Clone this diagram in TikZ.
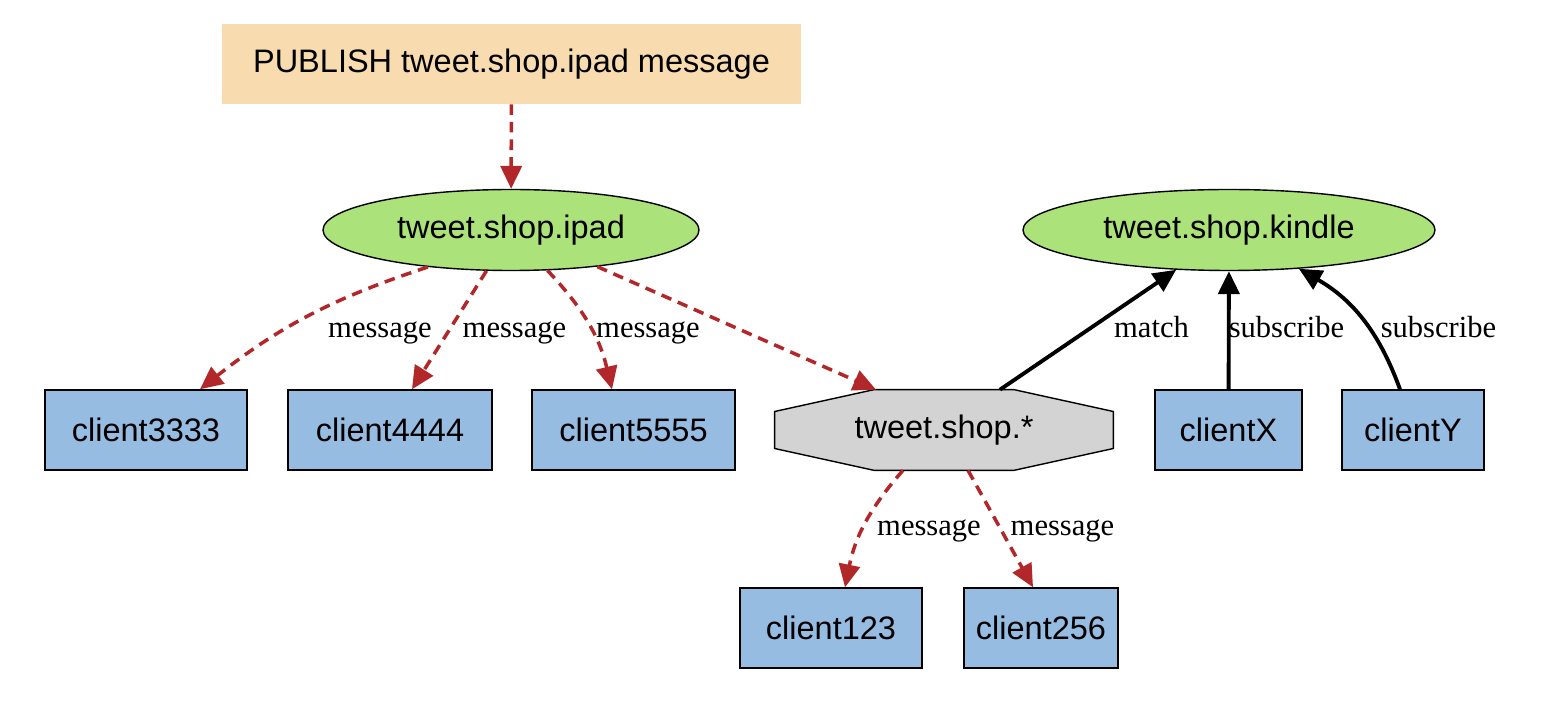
\documentclass[tikz,border=0pt]{standalone}
\usepackage{fontspec}
\setmainfont{Liberation Serif}
\newfontfamily\boxfont{Liberation Sans}
\usetikzlibrary{positioning,shapes.geometric,arrows.meta,backgrounds}

\definecolor{pubfill}{HTML}{F8DCAF}
\definecolor{chanfill}{HTML}{ABE27A}
\definecolor{clifill}{HTML}{97BCE1}
\definecolor{patfill}{HTML}{D3D3D3}
\definecolor{msgred}{HTML}{B2282A}

\begin{document}
\begin{tikzpicture}[
  every node/.style={font=\boxfont\fontsize{18.5}{22}\selectfont},
  client/.style={draw, fill=clifill, line width=0.8pt, minimum height=1.6cm, inner sep=0pt},
  channel/.style={ellipse, draw, fill=chanfill, line width=0.8pt, minimum height=1.62cm, inner sep=0pt},
  msg/.style={msgred, line width=2pt, dash pattern=on 6pt off 4pt, -{Triangle[length=13pt,width=12pt]}},
  sub/.style={black, line width=2.2pt, -{Triangle[length=13pt,width=12pt]}},
  lbl/.style={font=\rmfamily\fontsize{17.4}{20}\selectfont, anchor=base, inner sep=0pt}
]
  \useasboundingbox (0,0) rectangle (31.2,-14.56);

  % publish command
  \node[fill=pubfill, minimum width=11.58cm, minimum height=1.6cm, inner sep=0pt] (pub) at (10.23,-1.28) {PUBLISH tweet.shop.ipad message};

  % channels
  \node[channel, minimum width=7.52cm] (ipad) at (10.22,-4.6) {tweet.shop.ipad};
  \node[channel, minimum width=8.24cm] (kindle) at (24.58,-4.6) {tweet.shop.kindle};

  % clients
  \node[client, minimum width=4.04cm] (c3333) at (2.92,-8.6) {client3333};
  \node[client, minimum width=4.08cm] (c4444) at (7.8,-8.6) {client4444};
  \node[client, minimum width=4.06cm] (c5555) at (12.67,-8.6) {client5555};
  \node[client, minimum width=2.94cm] (clientX) at (24.57,-8.6) {clientX};
  \node[client, minimum width=2.84cm] (clientY) at (28.26,-8.6) {clientY};
  \node[client, minimum width=3.64cm] (c123) at (16.62,-12.56) {client123};
  \node[client, minimum width=3.08cm] (c256) at (20.82,-12.56) {client256};

  % pattern
  \node[minimum width=6.76cm, minimum height=1.6cm, inner sep=0pt] (pat) at (18.88,-8.6) {tweet.shop.*};
  \begin{scope}[on background layer]
    \draw[fill=patfill, line width=0.8pt] ([xshift=-1.4cm]pat.north) -- ([xshift=1.4cm]pat.north)
      -- ([yshift=0.37cm]pat.east) -- ([yshift=-0.37cm]pat.east)
      -- ([xshift=1.4cm]pat.south) -- ([xshift=-1.4cm]pat.south)
      -- ([yshift=-0.37cm]pat.west) -- ([yshift=0.37cm]pat.west) -- cycle;
  \end{scope}

  % messages
  \draw[msg] (pub) -- (ipad);
  \draw[msg] (ipad.204) to[bend right=10] ([xshift=1.08cm]c3333.north);
  \draw[msg] (ipad.239) -- ([xshift=0.44cm]c4444.north);
  \draw[msg] (ipad.312) to[bend left=15] ([xshift=-0.43cm]c5555.north);
  \draw[msg] (ipad.337) -- ([xshift=-1.36cm]pat.north);
  \draw[msg] ([xshift=-0.82cm]pat.south) to[bend right=15] ([xshift=0.28cm]c123.north);
  \draw[msg] ([xshift=0.48cm]pat.south) -- ([xshift=-0.16cm]c256.north);

  % subscriptions
  \draw[sub] ([xshift=1.12cm]pat.north) -- (kindle.217);
  \draw[sub] (clientX) -- (kindle);
  \draw[sub] ([xshift=-0.26cm]clientY.north) to[bend right=20] (kindle.331);

  \node[lbl] (m1) at (7.6,-6.76) {message};
  \node[lbl] (m2) at (10.29,-6.76) {message};
  \node[lbl] (m3) at (12.96,-6.76) {message};
  \node[lbl] (m4) at (18.58,-10.72) {message};
  \node[lbl] (m5) at (21.25,-10.72) {message};
  \node[lbl] (match) at (23.03,-6.76) {match};
  \node[lbl] (s1) at (25.73,-6.76) {subscribe};
  \node[lbl] (s2) at (28.77,-6.76) {subscribe};
\end{tikzpicture}
\end{document}
